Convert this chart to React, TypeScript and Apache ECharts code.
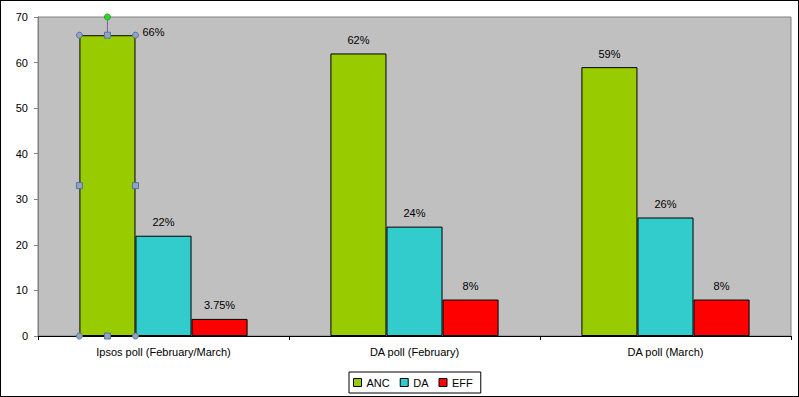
import React, { useEffect, useRef } from "react";
import * as echarts from "echarts";

const categories = ["Ipsos poll (February/March)", "DA poll (February)", "DA poll (March)"];
const ancValues = [66, 62, 59];
const daValues = [22, 24, 26];
const effValues = [3.75, 8, 8];
const seriesNames = ["ANC", "DA", "EFF"];
const seriesColors = ["#99CC00", "#33CCCC", "#FF0000"];

const FONT = "'Liberation Sans', Arial, sans-serif";

export default function App() {
  const ref = useRef<HTMLDivElement>(null);
  useEffect(() => {
    if (!ref.current) return;
    const chart = echarts.init(ref.current, null, { renderer: "svg" });
    const label = {
      show: true,
      position: "top" as const,
      distance: 8,
      color: "#000",
      fontFamily: FONT,
      fontSize: 11,
      formatter: (p: any) => p.value + "%",
    };
    const mk = (name: string, vals: number[], color: string, special?: boolean) => ({
      name,
      type: "bar",
      data: vals.map((v, i) =>
        special && i === 0
          ? {
              value: v,
              label: { position: ["100%", 0], offset: [7, -9], align: "left", verticalAlign: "top" },
            }
          : v
      ),
      itemStyle: { color, borderColor: "#000", borderWidth: 1 },
      barGap: "0%",
      barCategoryGap: "33%",
      label,
    });
    chart.setOption({
      animation: false,
      backgroundColor: "transparent",
      textStyle: { fontFamily: FONT },
      grid: {
        left: 38,
        right: 8,
        top: 17,
        bottom: 61,
        show: true,
        backgroundColor: "#C0C0C0",
        borderColor: "#808080",
        borderWidth: 1,
      },
      legend: {
        left: 349,
        top: 372,
        itemWidth: 8,
        itemHeight: 8,
        itemGap: 10,
        padding: [5, 8, 5, 4],
        borderColor: "#000",
        borderWidth: 1,
        borderRadius: 0,
        icon: "rect",
        textStyle: { fontSize: 11, color: "#000", fontFamily: FONT },
        data: seriesNames.map((n) => ({ name: n, itemStyle: { borderColor: "#000", borderWidth: 1 } })),
      },
      xAxis: {
        type: "category",
        data: categories,
        axisLine: { lineStyle: { color: "#000", width: 1 } },
        axisTick: { show: true, length: 4, lineStyle: { color: "#000" } },
        axisLabel: { color: "#000", fontSize: 11, margin: 10, fontFamily: FONT },
      },
      yAxis: {
        type: "value",
        min: 0,
        max: 70,
        interval: 10,
        splitLine: { show: false },
        axisLine: { show: true, lineStyle: { color: "#808080" } },
        axisTick: { show: true, length: 4, lineStyle: { color: "#808080" } },
        axisLabel: { color: "#000", fontSize: 11, margin: 10, fontFamily: FONT },
      },
      series: [
        mk(seriesNames[0], ancValues, seriesColors[0], true),
        mk(seriesNames[1], daValues, seriesColors[1]),
        mk(seriesNames[2], effValues, seriesColors[2]),
      ],
    });

    // selection handles around the first ANC bar (as in the Excel screenshot)
    const layout = (chart as any).getModel().getSeriesByIndex(0).getData().getItemLayout(0);
    if (layout) {
      const x0 = layout.x;
      const x1 = layout.x + layout.width;
      const yb = layout.y;
      const yt = layout.y + layout.height;
      const top = Math.min(yb, yt);
      const bot = Math.max(yb, yt);
      const xm = (x0 + x1) / 2;
      const ym = (top + bot) / 2;
      const fill = "#8EA4C4";
      const stroke = "#5B7396";
      const circ = (x: number, y: number) => ({
        type: "circle",
        shape: { cx: x, cy: y, r: 3 },
        style: { fill, stroke, lineWidth: 1 },
        z: 100,
      });
      const sq = (x: number, y: number) => ({
        type: "rect",
        shape: { x: x - 3, y: y - 3, width: 6, height: 6 },
        style: { fill, stroke, lineWidth: 1 },
        z: 100,
      });
      const gridTop = chart.convertToPixel({ yAxisIndex: 0 }, 70) as number;
      chart.setOption({
        graphic: [
          {
            type: "line",
            shape: { x1: xm, y1: gridTop, x2: xm, y2: top },
            style: { stroke: "#6B6B9B", lineWidth: 1 },
            z: 99,
          },
          {
            type: "circle",
            shape: { cx: xm, cy: gridTop, r: 3 },
            style: { fill: "#22DD22", stroke: "#339933", lineWidth: 1 },
            z: 100,
          },
          circ(x0, top),
          circ(x1, top),
          circ(x0, bot),
          circ(x1, bot),
          sq(xm, top),
          sq(xm, bot),
          sq(x0, ym),
          sq(x1, ym),
        ],
      });
    }
    return () => chart.dispose();
  }, []);
  return (
    <div
      style={{
        position: "fixed",
        left: 0,
        top: 0,
        width: 799,
        height: 397,
        boxSizing: "border-box",
        border: "1px solid #000",
        background: "#fff",
      }}
    >
      <div ref={ref} style={{ position: "absolute", left: -1, top: -1, width: 799, height: 397 }} />
    </div>
  );
}
